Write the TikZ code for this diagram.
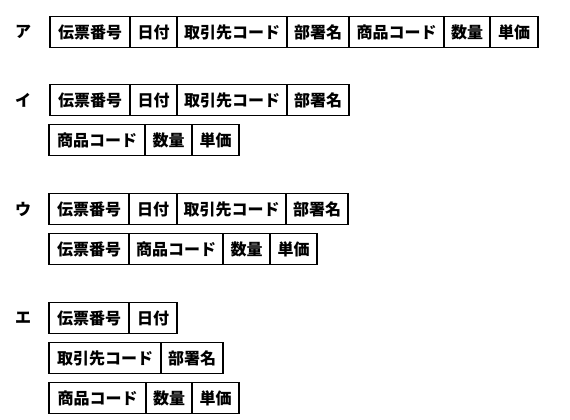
\documentclass[tikz,border=0pt]{standalone}
\usepackage{fontspec}
\setmainfont{Noto Sans CJK JP}
\usetikzlibrary{positioning}

\tikzset{
  cell/.style={draw, line width=1.4pt, inner sep=0pt, outer sep=0pt,
    minimum height=31pt, font=\fontsize{16}{16}\selectfont\bfseries},
  mark label/.style={font=\fontsize{16}{16}\selectfont\bfseries}
}

\begin{document}
\begin{tikzpicture}[x=1pt,y=1pt]
      \useasboundingbox (0,0) rectangle (570,-420);
      % ア
      \node[mark label] (la) at (23,-32) {ア};
      \node[cell, minimum width=80pt, anchor=west] (a1) at (50,-32) {伝票番号};
      \node[cell, minimum width=47pt, right=0pt of a1] (a2) {日付};
      \node[cell, minimum width=110pt, right=0pt of a2] (a3) {取引先コード};
      \node[cell, minimum width=62pt, right=0pt of a3] (a4) {部署名};
      \node[cell, minimum width=95pt, right=0pt of a4] (a5) {商品コード};
      \node[cell, minimum width=46pt, right=0pt of a5] (a6) {数量};
      \node[cell, minimum width=48pt, right=0pt of a6] (a7) {単価};
      % イ
      \node[mark label] (li) at (23,-100) {イ};
      \node[cell, minimum width=80pt, anchor=west] (i1) at (50,-100) {伝票番号};
      \node[cell, minimum width=47pt, right=0pt of i1] (i2) {日付};
      \node[cell, minimum width=110pt, right=0pt of i2] (i3) {取引先コード};
      \node[cell, minimum width=62pt, right=0pt of i3] (i4) {部署名};
      \node[cell, minimum width=96pt, anchor=west] (i5) at (49,-140) {商品コード};
      \node[cell, minimum width=47pt, right=0pt of i5] (i6) {数量};
      \node[cell, minimum width=47pt, right=0pt of i6] (i7) {単価};
      % ウ
      \node[mark label] (lu) at (23,-209) {ウ};
      \node[cell, minimum width=80pt, anchor=west] (u1) at (49,-209) {伝票番号};
      \node[cell, minimum width=48pt, right=0pt of u1] (u2) {日付};
      \node[cell, minimum width=109pt, right=0pt of u2] (u3) {取引先コード};
      \node[cell, minimum width=62pt, right=0pt of u3] (u4) {部署名};
      \node[cell, minimum width=80pt, anchor=west] (u5) at (49,-249) {伝票番号};
      \node[cell, minimum width=94pt, right=0pt of u5] (u6) {商品コード};
      \node[cell, minimum width=47pt, right=0pt of u6] (u7) {数量};
      \node[cell, minimum width=47pt, right=0pt of u7] (u8) {単価};
      % エ
      \node[mark label] (le) at (23,-318) {エ};
      \node[cell, minimum width=80pt, anchor=west] (e1) at (49,-318) {伝票番号};
      \node[cell, minimum width=48pt, right=0pt of e1] (e2) {日付};
      \node[cell, minimum width=112pt, anchor=west] (e3) at (49,-358) {取引先コード};
      \node[cell, minimum width=62pt, right=0pt of e3] (e4) {部署名};
      \node[cell, minimum width=97pt, anchor=west] (e5) at (49,-398) {商品コード};
      \node[cell, minimum width=46pt, right=0pt of e5] (e6) {数量};
      \node[cell, minimum width=47pt, right=0pt of e6] (e7) {単価};
\end{tikzpicture}
\end{document}
